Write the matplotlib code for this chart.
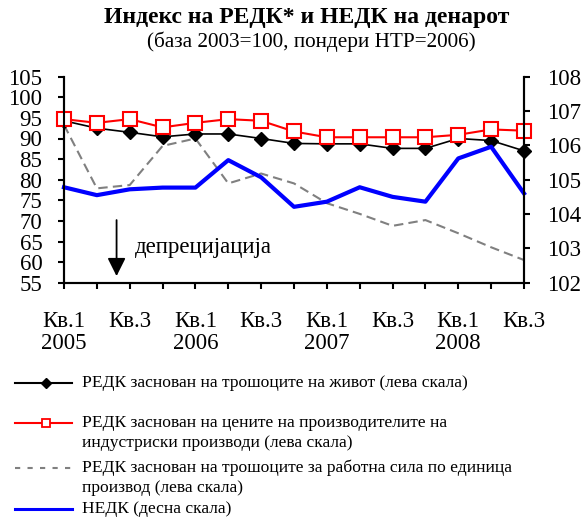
import matplotlib
matplotlib.use("Agg")
import matplotlib.pyplot as plt
from matplotlib.lines import Line2D

plt.rcParams["font.family"] = ["Liberation Serif", "DejaVu Serif"]

# --- Data (quarters Q1 2005 .. Q3 2008) ---
quarters = list(range(15))
tick_labels = ["Кв.1\n2005", "", "Кв.3", "", "Кв.1\n2006", "", "Кв.3", "",
               "Кв.1\n2007", "", "Кв.3", "", "Кв.1\n2008", "", "Кв.3"]

redk_cpi = [94.3, 92.5, 91.5, 90.4, 91.1, 91.1, 90.0, 88.8,
            88.7, 88.7, 87.6, 87.6, 90.0, 89.5, 87.0]
redk_ppi = [94.7, 93.8, 94.7, 92.7, 93.8, 94.7, 94.3, 91.7,
            90.3, 90.3, 90.3, 90.3, 90.9, 92.2, 91.9]
redk_ulc = [93.3, 77.9, 78.7, 88.2, 90.0, 79.1, 81.5, 79.1,
            74.3, 71.7, 68.8, 70.2, 67.0, 63.6, 60.5]
nedk = [104.78, 104.55, 104.72, 104.77, 104.77, 105.57, 105.07, 104.21,
        104.36, 104.78, 104.50, 104.36, 105.62, 105.96, 104.60]

labels = [
    "РЕДК заснован на трошоците на живот (лева скала)",
    "РЕДК заснован на цените на производителите на\nиндустриски производи (лева скала)",
    "РЕДК заснован на трошоците за работна сила по единица\nпроизвод (лева скала)",
    "НЕДК (десна скала)",
]

# --- Plot ---
W, H = 582, 519
fig = plt.figure(figsize=(W / 100, H / 100), dpi=100)
ax = fig.add_axes([64 / W, 1 - 282.7 / H, (524 - 64) / W, (282.7 - 76.7) / H])
ax2 = ax.twinx()

ax.plot(quarters, redk_ulc, color="#808080", lw=1.5, ls=(0, (4.5, 2.5)),
        zorder=2, clip_on=False)
ax.plot(quarters, redk_cpi, color="black", lw=1.2, marker="D", ms=7,
        mfc="black", mec="black", zorder=3, clip_on=False)
ax.plot(quarters, redk_ppi, color="red", lw=1.5, marker="s", ms=9.5,
        mfc="white", mec="red", mew=1.5, zorder=4, clip_on=False)
ax2.plot(quarters, nedk, color="blue", lw=3, zorder=2, clip_on=False)

ax.set_xlim(0, 14)
ax.set_ylim(55, 105)
ax.set_yticks(range(55, 106, 5))
ax2.set_ylim(102, 108)
ax2.set_yticks(range(102, 109))
ax.set_xticks(quarters)
ax.set_xticklabels(tick_labels, linespacing=1.05)

for a in (ax, ax2):
    a.spines["top"].set_visible(False)
    for s in a.spines.values():
        s.set_linewidth(1.5)
ax.tick_params(axis="x", length=4.5, width=1.5, pad=16, labelsize=16.5)
ax.tick_params(axis="y", length=4.5, width=1.5, pad=11, labelsize=16.5)
ax2.tick_params(axis="y", length=4.5, width=1.5, pad=12, labelsize=16.5)

ax.annotate("", xy=(1.6, 56.6), xytext=(1.6, 70.2),
            arrowprops=dict(arrowstyle="-|>,head_length=1.1,head_width=0.55",
                            color="black", lw=1.3, shrinkA=0, shrinkB=0))
ax.text(2.17, 63.6, "депрецијација", fontsize=16.5, va="center", ha="left")

fig.text(0.5 + 16 / W, 1 - 18 / H, "Индекс на РЕДК* и НЕДК на денарот",
         ha="center", va="center", fontsize=17, fontweight="bold")
fig.text(0.5 + 20 / W, 1 - 42 / H, "(база 2003=100, пондери НТР=2006)",
         ha="center", va="center", fontsize=15.3)

# --- Legend (drawn manually so samples align with first text line) ---
rows = [383, 423, 468, 509]
styles = [
    dict(color="black", lw=1.5, marker="D", ms=5, markevery=[1]),
    dict(color="red", lw=1.5, marker="s", ms=6, mfc="white", mec="red",
         mew=1.3, markevery=[1]),
    dict(color="#808080", lw=1.5, ls=(0, (2.5, 3.5))),
    dict(color="blue", lw=2.2),
]
for y, st, lab in zip(rows, styles, labels):
    yf = 1 - y / H
    fig.add_artist(Line2D([15 / W, 46 / W, 72 / W], [yf, yf, yf],
                          transform=fig.transFigure, **st))
    fig.text(82 / W, yf + 8 / H, lab, ha="left", va="top", fontsize=12.6,
             linespacing=1.3)

fig.savefig("out.png", dpi=100)
